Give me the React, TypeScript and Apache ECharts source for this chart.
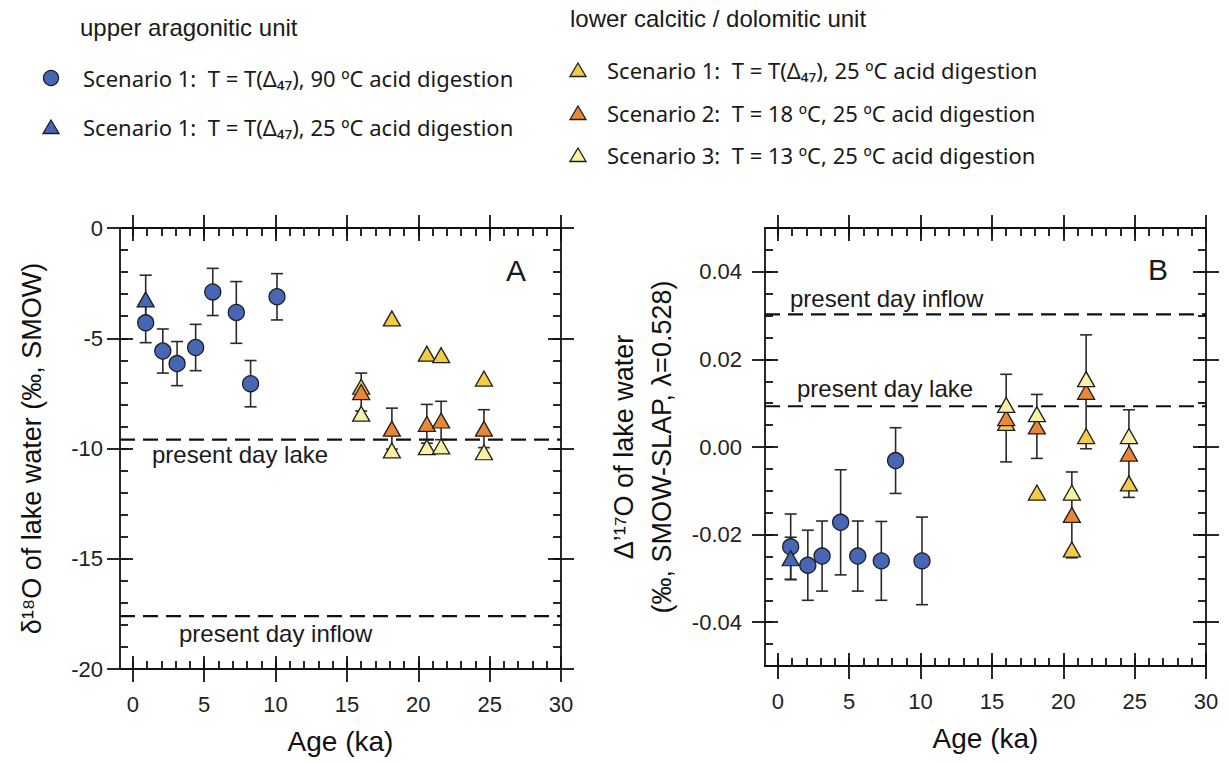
import React, { useEffect, useRef } from "react";
import * as echarts from "echarts";

// ---------- data ----------
const AGE_UPPER = [0.9, 2.1, 3.1, 4.4, 5.6, 7.25, 8.25, 10.1];
const AGE_UPPER_25 = [0.9];
const AGE_LOWER = [16.0, 18.15, 20.6, 21.6, 24.6];

// panel A: d18O of lake water (permil, SMOW)
const D18O_UPPER_90 = [-4.3, -5.58, -6.15, -5.42, -2.9, -3.83, -7.06, -3.12];
const D18O_UPPER_90_ERR = [0.9, 1.0, 1.0, 1.05, 1.07, 1.4, 1.05, 1.05];
const D18O_UPPER_25 = [-3.24];
const D18O_UPPER_25_ERR = [1.1];
const D18O_S1 = [-7.2, -4.1, -5.7, -5.77, -6.83];
const D18O_S2 = [-7.44, -9.1, -8.88, -8.73, -9.1];
const D18O_S2_ERR = [0.86, 0.93, 0.88, 0.87, 0.86];
const D18O_S3 = [-8.42, -10.09, -9.94, -9.9, -10.17];
const D18O_LAKE = -9.6;
const D18O_INFLOW = -17.6;

// panel B: D'17O of lake water (permil, SMOW-SLAP)
const D17_UPPER_90 = [-0.0228, -0.027, -0.0249, -0.0172, -0.0249, -0.026, -0.0031, -0.026];
const D17_UPPER_90_ERR = [0.0075, 0.008, 0.008, 0.012, 0.008, 0.009, 0.0075, 0.01];
const D17_UPPER_25 = [-0.0254];
const D17_UPPER_25_ERR = [0.0048];
const D17_S1 = [0.0055, -0.0104, -0.0234, 0.0025, -0.0083];
const D17_S2 = [0.0066, 0.0047, -0.0155, 0.0126, -0.0015];
const D17_S2_ERR = [0.01, 0.0073, 0.0098, 0.013, 0.01];
const D17_S3 = [0.0096, 0.0075, -0.0104, 0.0155, 0.0025];
const D17_LAKE = 0.0093;
const D17_INFLOW = 0.0303;

// tick values
const X_MAJOR = [0, 5, 10, 15, 20, 25, 30];
const YA_MAJOR = [-20, -15, -10, -5, 0];
const YB_MAJOR = [-0.04, -0.02, 0, 0.02, 0.04];
const X_MINOR: number[] = [];
for (let i = 0; i <= 30; i++) X_MINOR.push(i);
const YA_MINOR: number[] = [];
for (let i = -20; i <= 0; i++) YA_MINOR.push(i);
const YB_MINOR: number[] = [];
for (let i = -10; i <= 10; i++) YB_MINOR.push(+(i * 0.005).toFixed(3));

const X_MIN = -0.9;
const X_MAX = 30;

// ---------- styles ----------
const AX = "#111";
const BLUE = "#4767b6";
const GOLD = "#f4cb45";
const ORANGE = "#e98739";
const LIGHT = "#f8f0a2";
const EDGE = "#1e1e1e";
const SANS = '"Liberation Sans", Arial, sans-serif';
const LEG = '"Noto Sans", "Open Sans", sans-serif';

function axisSet(gridIndex: number, min: number, max: number,
  majors: number[], minors: number[], labelSide: string, otherSide: string, extra: any) {
  const lineStyle = { color: AX, width: 1.8 };
  const out: any[] = [];
  [labelSide, otherSide].forEach((side) => {
    const isLabel = side === labelSide;
    const base = { type: "value", gridIndex, position: side, min, max, splitLine: { show: false } };
    out.push({
      ...base,
      axisLine: { show: true, onZero: false, lineStyle },
      axisTick: { show: true, inside: false, length: 13, customValues: majors, lineStyle },
      axisLabel: isLabel
        ? { show: true, customValues: majors, fontSize: 22, color: "#222", fontFamily: SANS, ...(extra.label || {}) }
        : { show: false },
      ...(isLabel ? extra.name || {} : {}),
    });
    out.push({
      ...base,
      axisLine: { show: false, onZero: false },
      axisTick: { show: true, inside: true, length: 13, customValues: majors, lineStyle },
      axisLabel: { show: false },
    });
    out.push({
      ...base,
      axisLine: { show: false, onZero: false },
      axisTick: { show: true, inside: true, length: 8, customValues: minors, lineStyle },
      axisLabel: { show: false },
    });
  });
  return out;
}

function errorSeries(xi: number, yi: number, ages: number[], vals: number[], errs: number[]) {
  return {
    type: "custom",
    xAxisIndex: xi,
    yAxisIndex: yi,
    z: 1,
    silent: true,
    data: ages.map((a, i) => [a, vals[i], errs[i]]),
    encode: { x: 0, y: 1 },
    renderItem: (params: any, api: any) => {
      const x = api.value(0), y = api.value(1), e = api.value(2);
      const t = api.coord([x, y + e]);
      const b = api.coord([x, y - e]);
      const hw = 6;
      const st = { stroke: "#2a2a2a", lineWidth: 1.6 };
      return {
        type: "group",
        children: [
          { type: "line", shape: { x1: t[0], y1: t[1], x2: b[0], y2: b[1] }, style: st },
          { type: "line", shape: { x1: t[0] - hw, y1: t[1], x2: t[0] + hw, y2: t[1] }, style: st },
          { type: "line", shape: { x1: b[0] - hw, y1: b[1], x2: b[0] + hw, y2: b[1] }, style: st },
        ],
      };
    },
  };
}

function scatter(xi: number, yi: number, ages: number[], vals: number[], symbol: string, color: string, z: number) {
  return {
    type: "scatter",
    xAxisIndex: xi,
    yAxisIndex: yi,
    z,
    symbol,
    symbolSize: symbol === "circle" ? 16 : [17, 15],
    itemStyle: { color, borderColor: EDGE, borderWidth: 1.3, opacity: 1 },
    data: ages.map((a, i) => [a, vals[i]]),
  };
}

function refLine(xi: number, yi: number, v: number) {
  return {
    type: "line",
    xAxisIndex: xi,
    yAxisIndex: yi,
    z: 1,
    symbol: "none",
    silent: true,
    lineStyle: { color: "#111", width: 2.2, type: [15, 8] },
    data: [[X_MIN, v], [X_MAX, v]],
  };
}

function txt(x: number, y: number, text: string, font: string, align = "left") {
  return {
    type: "text",
    x,
    y,
    silent: true,
    style: { text, font, fill: "#1a1a1a", align, verticalAlign: "middle", textAlign: align, textVerticalAlign: "middle" },
  };
}

function tri(cx: number, cy: number, color: string) {
  return {
    type: "polygon",
    silent: true,
    shape: { points: [[cx, cy - 7], [cx + 8, cy + 6.5], [cx - 8, cy + 6.5]] },
    style: { fill: color, stroke: EDGE, lineWidth: 1.3 },
  };
}

export default function App() {
  const ref = useRef<HTMLDivElement>(null);
  useEffect(() => {
    if (!ref.current) return;
    const chart = echarts.init(ref.current, undefined, { renderer: "svg" });

    const xName = {
      name: "Age (ka)",
      nameLocation: "middle",
      nameGap: 58,
      nameTextStyle: { fontSize: 28, color: "#111", fontFamily: SANS },
    };

    const xAxes = [
      ...axisSet(0, X_MIN, X_MAX, X_MAJOR, X_MINOR, "bottom", "top", { name: xName, label: { margin: 24 } }),
      ...axisSet(1, X_MIN, X_MAX, X_MAJOR, X_MINOR, "bottom", "top", { name: xName, label: { margin: 24 } }),
    ];
    const yAxes = [
      ...axisSet(0, -20, 0, YA_MAJOR, YA_MINOR, "left", "right", {
        label: { margin: 17 },
        name: {
          name: "δ¹⁸O of lake water (‰, SMOW)",
          nameLocation: "middle",
          nameRotate: 90,
          nameGap: 75,
          nameTextStyle: { fontSize: 27, color: "#111", fontFamily: SANS },
        },
      }),
      ...axisSet(1, -0.05, 0.05, YB_MAJOR, YB_MINOR, "left", "right", {
        label: { margin: 23, formatter: (v: number) => v.toFixed(2) },
        name: {
          name: "Δ’¹⁷O of lake water\n(‰, SMOW-SLAP, λ=0.528)",
          nameLocation: "middle",
          nameRotate: 90,
          nameGap: 84,
          nameTextStyle: { fontSize: 27, color: "#111", fontFamily: SANS, lineHeight: 38 },
        },
      }),
    ];

    const A = 0, B = 6;

    const option: any = {
      animation: false,
      backgroundColor: "#ffffff",
      grid: [
        { left: 120, top: 228, width: 441, height: 441 },
        { left: 765, top: 228, width: 441, height: 438 },
      ],
      xAxis: xAxes,
      yAxis: yAxes,
      series: [
        refLine(A, A, D18O_LAKE),
        refLine(A, A, D18O_INFLOW),
        refLine(B, B, D17_LAKE),
        refLine(B, B, D17_INFLOW),
        errorSeries(A, A, AGE_UPPER, D18O_UPPER_90, D18O_UPPER_90_ERR),
        errorSeries(A, A, AGE_UPPER_25, D18O_UPPER_25, D18O_UPPER_25_ERR),
        errorSeries(A, A, AGE_LOWER, D18O_S2, D18O_S2_ERR),
        errorSeries(B, B, AGE_UPPER, D17_UPPER_90, D17_UPPER_90_ERR),
        errorSeries(B, B, AGE_UPPER_25, D17_UPPER_25, D17_UPPER_25_ERR),
        errorSeries(B, B, AGE_LOWER, D17_S2, D17_S2_ERR),
        scatter(A, A, AGE_UPPER, D18O_UPPER_90, "circle", BLUE, 3),
        scatter(A, A, AGE_UPPER_25, D18O_UPPER_25, "triangle", BLUE, 4),
        scatter(A, A, AGE_LOWER, D18O_S1, "triangle", GOLD, 3),
        scatter(A, A, AGE_LOWER, D18O_S2, "triangle", ORANGE, 4),
        scatter(A, A, AGE_LOWER, D18O_S3, "triangle", LIGHT, 5),
        scatter(B, B, AGE_UPPER, D17_UPPER_90, "circle", BLUE, 3),
        scatter(B, B, AGE_UPPER_25, D17_UPPER_25, "triangle", BLUE, 4),
        scatter(B, B, AGE_LOWER, D17_S1, "triangle", GOLD, 3),
        scatter(B, B, AGE_LOWER, D17_S2, "triangle", ORANGE, 4),
        scatter(B, B, AGE_LOWER, D17_S3, "triangle", LIGHT, 5),
      ],
      graphic: [
        txt(80, 27, "upper aragonitic unit", `24px ${SANS}`),
        { type: "circle", silent: true, shape: { cx: 51, cy: 78, r: 7.5 }, style: { fill: BLUE, stroke: EDGE, lineWidth: 1.3 } },
        txt(83, 78, "Scenario 1:  T = T(Δ₄₇), 90 ºC acid digestion", `22px ${LEG}`),
        tri(51, 127, BLUE),
        txt(83, 127, "Scenario 1:  T = T(Δ₄₇), 25 ºC acid digestion", `22px ${LEG}`),
        txt(570, 18, "lower calcitic / dolomitic unit", `24px ${SANS}`),
        tri(578, 70, GOLD),
        txt(607, 70, "Scenario 1:  T = T(Δ₄₇), 25 ºC acid digestion", `22px ${LEG}`),
        tri(578, 113, ORANGE),
        txt(607, 113, "Scenario 2:  T = 18 ºC, 25 ºC acid digestion", `22px ${LEG}`),
        tri(578, 155, LIGHT),
        txt(607, 155, "Scenario 3:  T = 13 ºC, 25 ºC acid digestion", `22px ${LEG}`),
        txt(516, 270, "A", `30px ${SANS}`, "center"),
        txt(1158, 269, "B", `30px ${SANS}`, "center"),
        txt(152, 454, "present day lake", `24px ${SANS}`),
        txt(179, 633, "present day inflow", `24px ${SANS}`),
        txt(790, 298, "present day inflow", `24px ${SANS}`),
        txt(797, 388, "present day lake", `24px ${SANS}`),
      ],
    };
    chart.setOption(option);
    return () => chart.dispose();
  }, []);
  return (
    <div
      ref={ref}
      style={{ position: "fixed", left: 0, top: 0, width: 1229, height: 763, background: "#fff" }}
    />
  );
}
